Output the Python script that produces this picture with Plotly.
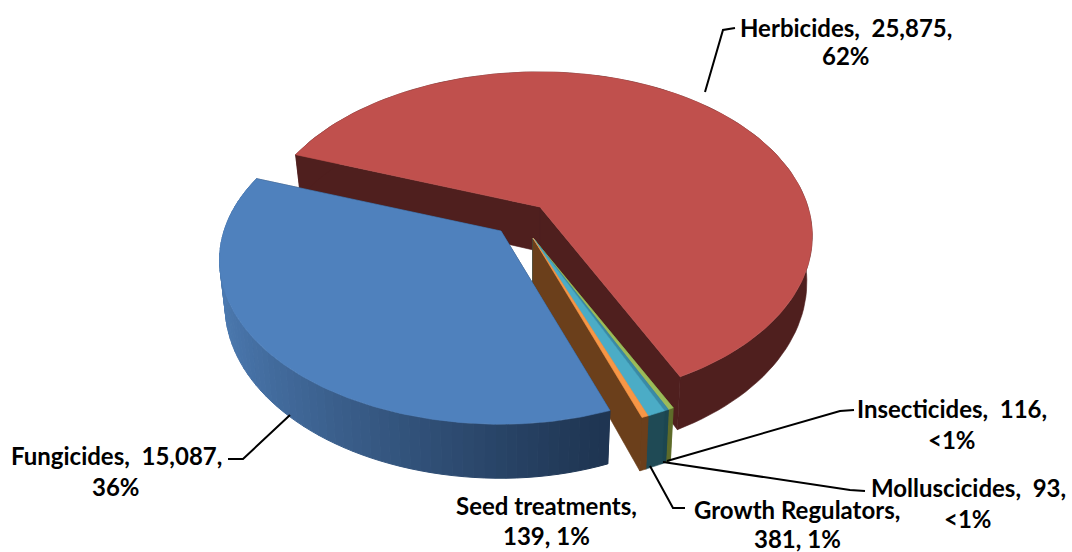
import numpy as np
import plotly.graph_objects as go

categories = ["Fungicides", "Herbicides", "Insecticides", "Molluscicides", "Growth Regulators", "Seed treatments"]
values = [15087, 25875, 116, 93, 381, 139]
top_colors = ["#4F81BD", "#C0504D", "#9BBB59", "#3A8AA6", "#4BACC6", "#F79646"]
side_colors = ["#1F3552", "#4F1F1E", "#5E6B2A", "#1C4650", "#1F4A55", "#6B3F1B"]
offsets_x = [-39, 0, -7, -7, -7, -7]
offsets_y = [24, 0, 31, 31, 31, 31]
label_lines = [
    ["Fungicides,\u00a0 15,087,", "36%"],
    ["Herbicides,\u00a0 25,875,", "62%"],
    ["Insecticides,\u00a0 116,", "<1%"],
    ["Molluscicides,\u00a0 93,", "<1%"],
    ["Growth Regulators,", "381, 1%"],
    ["Seed treatments,", "139, 1%"],
]
label_x = [116, 846, 952, 968, 797, 546]
label_y = [[455, 486], [27, 55], [408, 439], [487, 518], [509, 538], [505, 535]]
leaders = [
    [(228, 459), (243, 459), (290, 415)],
    [(705, 92), (723, 30), (735, 28)],
    [(667, 461), (840, 411), (854, 410)],
    [(663, 462), (850, 490), (865, 491)],
    [(650, 466), (673, 508), (685, 508)],
]
start_angle = 153.9 - 360 * values[1] / sum(values)
grad_left = np.array([0x4C, 0x7A, 0xB1])
grad_right = np.array([0x1F, 0x35, 0x52])

CX, CY, RX_L, RX_R, RY, K, D = 540, 207, 277, 268, 159, 0.177, 44.5


def project(theta_deg, r, z, sx, sy):
    t = np.radians(theta_deg)
    u, v = r * np.sin(t), r * np.cos(t)
    w = 1 + K * v
    rx = np.where(u < 0, RX_L, RX_R)
    x = CX + rx * u / w * (1 - 0.02 * z) + sx
    y = CY - RY * v / w + D * z / w + sy
    return x, y


def poly(fig, xs, ys, color, width=0.6):
    fig.add_trace(go.Scatter(x=list(xs), y=list(ys), mode="lines", fill="toself", fillcolor=color,
                             line=dict(color=color, width=width), hoverinfo="skip", showlegend=False))


fig = go.Figure()

order = [1, 2, 3, 4, 5, 0]
spans = {}
a = start_angle
for i in order:
    b = a + 360 * values[i] / sum(values)
    spans[i] = (a, b)
    a = b


def draw_walls(i):
    a, b = spans[i]
    sx, sy = offsets_x[i], offsets_y[i]
    for ang in (a, b):
        x0, y0 = project(ang, 0, 0, sx, sy)
        x1, y1 = project(ang, 1, 0, sx, sy)
        x2, y2 = project(ang, 1, 1, sx, sy)
        x3, y3 = project(ang, 0, 1, sx, sy)
        poly(fig, [x0, x1, x2, x3, x0], [y0, y1, y2, y3, y0], side_colors[i])


def draw_rim(i, gradient=False):
    a, b = spans[i]
    sx, sy = offsets_x[i], offsets_y[i]
    if gradient:
        edges = np.linspace(a, b, 70)
        xt, _ = project(edges, 1, 1, sx, sy)
        lo, hi = xt.min(), xt.max()
        for e0, e1 in zip(edges[:-1], edges[1:]):
            arc = np.array([e0, e1])
            x_top, y_top = project(arc, 1, 0, sx, sy)
            x_bot, y_bot = project(arc[::-1], 1, 1, sx, sy)
            f = np.clip((project(e0, 1, 1, sx, sy)[0] - lo) / (hi - lo), 0, 1) ** 0.8
            c = grad_left + (grad_right - grad_left) * f
            color = "rgb(%d,%d,%d)" % tuple(c)
            poly(fig, np.r_[x_top, x_bot, x_top[0]], np.r_[y_top, y_bot, y_top[0]], color, width=1)
    else:
        arc = np.linspace(a, b, 120)
        x_top, y_top = project(arc, 1, 0, sx, sy)
        x_bot, y_bot = project(arc[::-1], 1, 1, sx, sy)
        poly(fig, np.r_[x_top, x_bot, x_top[0]], np.r_[y_top, y_bot, y_top[0]], side_colors[i])


def draw_top(i):
    a, b = spans[i]
    sx, sy = offsets_x[i], offsets_y[i]
    arc = np.linspace(a, b, 200)
    x_rim, y_rim = project(arc, 1, 0, sx, sy)
    x0, y0 = project(a, 0, 0, sx, sy)
    poly(fig, np.r_[x0, x_rim, x0], np.r_[y0, y_rim, y0], top_colors[i])


draw_walls(1)
draw_rim(1)
draw_top(1)
for i in [2, 3, 4, 5]:
    draw_walls(i)
    draw_rim(i)
for i in [2, 3, 4, 5]:
    draw_top(i)
draw_walls(0)
draw_rim(0, gradient=True)
draw_top(0)

for pts in leaders:
    fig.add_trace(go.Scatter(x=[p[0] for p in pts], y=[p[1] for p in pts], mode="lines",
                             line=dict(color="#000000", width=2), hoverinfo="skip", showlegend=False))

for lines, x, ys in zip(label_lines, label_x, label_y):
    for line, y in zip(lines, ys):
        fig.add_annotation(x=x, y=y, text=line.replace("<", "&lt;"), showarrow=False, xanchor="center", yanchor="middle",
                           font=dict(family="Lato", size=24, color="#000000", weight="bold"))

fig.update_xaxes(range=[0, 1072], visible=False, fixedrange=True)
fig.update_yaxes(range=[552, 0], visible=False, fixedrange=True)
fig.update_layout(width=1072, height=552, margin=dict(l=0, r=0, t=0, b=0),
                  paper_bgcolor="white", plot_bgcolor="white", showlegend=False)
fig.write_html("out.html", config={"displayModeBar": False},
               post_script="document.body.style.margin='0';document.body.style.overflow='hidden';")
